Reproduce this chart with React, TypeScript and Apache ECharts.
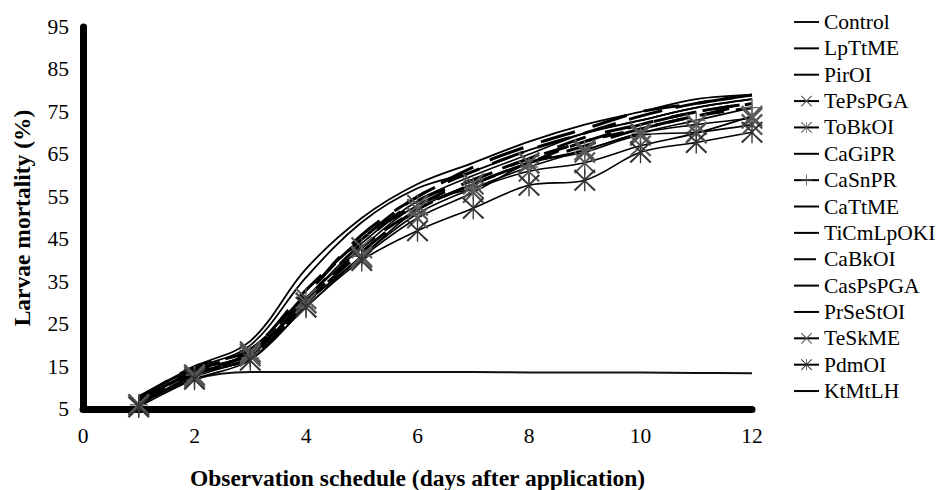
import React, { useEffect, useRef } from "react";
import * as echarts from "echarts";

const days = [1, 2, 3, 4, 5, 6, 7, 8, 9, 10, 11, 12];
const xTicks = [0, 2, 4, 6, 8, 10, 12];
const yTicks = [5, 15, 25, 35, 45, 55, 65, 75, 85, 95];

const seriesNames = [
  "Control", "LpTtME", "PirOI", "TePsPGA", "ToBkOI", "CaGiPR", "CaSnPR", "CaTtME",
  "TiCmLpOKI", "CaBkOI", "CasPsPGA", "PrSeStOI", "TeSkME", "PdmOI", "KtMtLH",
];

const control = [6, 12, 13.7, 13.7, 13.7, 13.7, 13.7, 13.6, 13.6, 13.6, 13.5, 13.4];
const lpTtME = [7, 14, 18, 31, 44, 54, 60, 65, 70, 73, 76, 78];
const pirOI = [6.5, 13.5, 17, 30, 42, 52, 58, 63, 67, 71, 74, 77];
const tePsPGA = [6, 13, 18.5, 30, 40.7, 50, 56, 62.9, 65.5, 69.5, 70.2, 72];
const toBkOI = [6, 12.5, 17.5, 31, 43, 53, 57, 61, 63, 67, 70, 74];
const caGiPR = [7.5, 15, 19, 33, 45, 55, 61, 66, 70, 74, 77, 79];
const caSnPR = [6, 13, 17, 29, 41, 51, 57, 62, 66, 70, 73, 76];
const caTtME = [7, 14, 18, 32, 45, 53, 59, 64, 68, 72, 75, 77];
const tiCmLpOKI = [8, 14.5, 20, 36, 49, 57, 61, 66, 70, 73, 76, 78];
const caBkOI = [7, 13.5, 17, 30, 43, 52, 58, 63, 68, 71, 74, 76];
const casPsPGA = [6.5, 14, 18, 31, 44, 54, 59, 64, 69, 72, 75, 77];
const prSeStOI = [7, 14, 19, 32, 46, 55, 62, 67, 71, 75, 77, 79];
const teSkME = [6, 13, 18, 30, 41, 52, 58, 63, 66, 70, 72, 73.5];
const pdmOI = [5.5, 12, 16.5, 29, 40, 47, 52.3, 57.7, 58.9, 65.5, 67.8, 70.2];
const ktMtLH = [8, 15, 21, 38, 50, 58, 63, 68, 72, 75, 78, 79];

const seriesValues = [
  control, lpTtME, pirOI, tePsPGA, toBkOI, caGiPR, caSnPR, caTtME,
  tiCmLpOKI, caBkOI, casPsPGA, prSeStOI, teSkME, pdmOI, ktMtLH,
];

const X_SYM = "path://M0,7L7,0L50,43L93,0L100,7L57,50L100,93L93,100L50,57L7,100L0,93L43,50Z";
const AST_SYM =
  "path://M0,7L7,0L47,40L47,0L53,0L53,40L93,0L100,7L57,47L57,53L100,93L93,100L53,60L53,100L47,100L47,60L7,100L0,93L43,53L43,47Z";
const PLUS_SYM = "path://M46,0H54V46H100V54H54V100H46V54H0V46H46Z";
// invisible symbol: square bounds, negligible area (legend shows only the line)
const NO_SYM = "path://M0,0L0.01,0L0,0.01Z M100,100L99.99,100L100,99.99Z";

type Sty = { dash?: number[]; width: number; color: string; symbol?: string; symColor?: string; size?: number };
const styles: Record<string, Sty> = {
  Control: { width: 2, color: "#111" },
  LpTtME: { width: 1.6, color: "#000" },
  PirOI: { width: 3, color: "#000", dash: [30, 16] },
  TePsPGA: { width: 1.6, color: "#000", symbol: X_SYM, symColor: "#555", size: 22 },
  ToBkOI: { width: 1.6, color: "#000", symbol: AST_SYM, symColor: "#555", size: 22 },
  CaGiPR: { width: 3, color: "#000", dash: [34, 14] },
  CaSnPR: { width: 1.6, color: "#000", symbol: PLUS_SYM, symColor: "#666", size: 18 },
  CaTtME: { width: 3, color: "#000", dash: [26, 18] },
  TiCmLpOKI: { width: 1.8, color: "#000" },
  CaBkOI: { width: 3, color: "#000", dash: [22, 12] },
  CasPsPGA: { width: 3, color: "#000", dash: [30, 20] },
  PrSeStOI: { width: 3, color: "#000", dash: [36, 18] },
  TeSkME: { width: 1.6, color: "#000", symbol: X_SYM, symColor: "#555", size: 22 },
  PdmOI: { width: 1.6, color: "#000", symbol: AST_SYM, symColor: "#333", size: 22 },
  KtMtLH: { width: 1.8, color: "#000" },
};

const FONT = "'Liberation Serif', 'Times New Roman', serif";

export default function App() {
  const ref = useRef<HTMLDivElement>(null);
  useEffect(() => {
    if (!ref.current) return;
    const chart = echarts.init(ref.current, null, { renderer: "svg" });
    const series = seriesNames.map((name, i) => {
      const s = styles[name];
      return {
        name,
        type: "line",
        smooth: 0.35,
        data: days.map((d, j) => [d, seriesValues[i][j]]),
        symbol: s.symbol ?? NO_SYM,
        symbolSize: s.size ?? 2,
        showSymbol: !!s.symbol,
        itemStyle: { color: s.symColor ?? s.color, borderWidth: 0 },
        lineStyle: { color: s.color, width: s.width, type: s.dash ?? "solid" },
        emphasis: { disabled: true },
        z: s.symbol ? 3 : 2,
      };
    });
    chart.setOption({
      animation: false,
      backgroundColor: "#fff",
      textStyle: { fontFamily: FONT },
      grid: { left: 75, right: 199, top: 19, bottom: 81, outerBoundsMode: "none", containLabel: false },
      xAxis: {
        type: "value",
        min: xTicks[0],
        max: xTicks[xTicks.length - 1],
        interval: 2,
        name: "Observation schedule (days after application)",
        nameLocation: "middle",
        nameGap: 57,
        nameTextStyle: { fontFamily: FONT, fontSize: 23.5, fontWeight: "bold", color: "#000" },
        axisLine: { lineStyle: { color: "#000", width: 7 } },
        axisTick: { show: false },
        splitLine: { show: false },
        axisLabel: { fontFamily: FONT, fontSize: 21.5, color: "#000", margin: 16 },
      },
      yAxis: {
        type: "value",
        min: yTicks[0],
        max: yTicks[yTicks.length - 1],
        interval: 10,
        name: "Larvae mortality (%)",
        nameLocation: "middle",
        nameGap: 49,
        nameTextStyle: { fontFamily: FONT, fontSize: 23.5, fontWeight: "bold", color: "#000" },
        axisLine: { show: true, lineStyle: { color: "#000", width: 7 } },
        axisTick: { show: false },
        splitLine: { show: false },
        axisLabel: { fontFamily: FONT, fontSize: 21.5, color: "#000", margin: 14 },
      },
      legend: {
        orient: "vertical",
        left: 785,
        top: 3,
        padding: 0,
        itemWidth: 25,
        itemHeight: 14,
        itemGap: 4.36,
        data: seriesNames,
        textStyle: { fontFamily: FONT, fontSize: 21.5, color: "#000", lineHeight: 22 },
      },
      series,
    });
    return () => chart.dispose();
  }, []);
  return <div ref={ref} style={{ width: 943, height: 482 }} />;
}
